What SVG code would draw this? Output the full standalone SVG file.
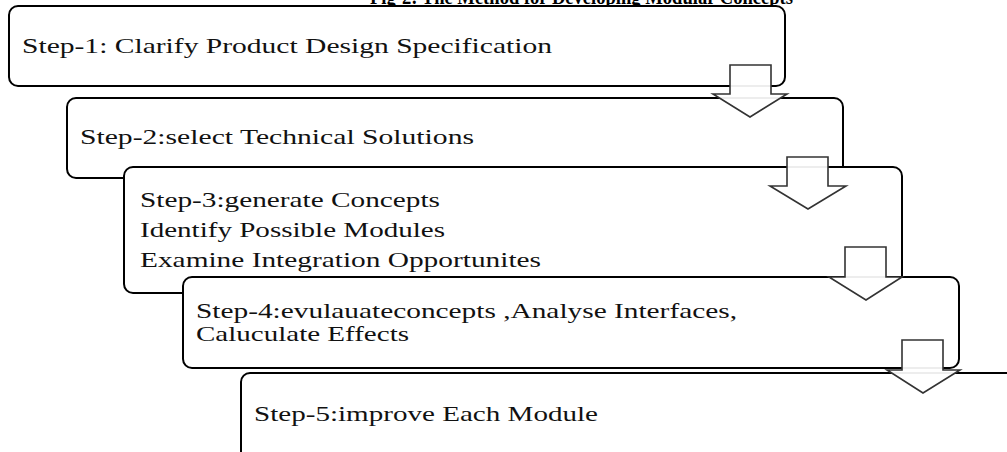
<svg xmlns="http://www.w3.org/2000/svg" width="1007" height="452" viewBox="0 0 1007 452">
  <style>
    .box { fill: #ffffff; stroke: #000000; stroke-width: 2; }
    .lbl { font-family: "Liberation Serif", "Times New Roman", serif; font-size: 22px; fill: #111111; }
    .tight { font-size: 21px; }
    .title { font-family: "Liberation Serif", "Times New Roman", serif; font-size: 22px; font-weight: bold; fill: #000000; }
    .arrow { fill: #ffffff; fill-opacity: 0.93; stroke: #333333; stroke-width: 1.6; stroke-linejoin: miter; }
  </style>

  <!-- caption, clipped at the top edge -->
  <text class="title" x="370" y="4" textLength="423" lengthAdjust="spacingAndGlyphs">Fig-2: The Method for Developing Modular Concepts</text>

  <g id="step1">
    <rect class="box" x="9" y="6" width="776" height="80" rx="9"/>
    <text class="lbl" x="22" y="53" textLength="530" lengthAdjust="spacingAndGlyphs">Step-1: Clarify Product Design Specification</text>
  </g>

  <g id="step2">
    <rect class="box" x="67" y="98" width="776" height="80" rx="9"/>
    <text class="lbl" x="80" y="144" textLength="394" lengthAdjust="spacingAndGlyphs">Step-2:select Technical Solutions</text>
  </g>

  <g id="step3">
    <rect class="box" x="124" y="167" width="778" height="126" rx="9"/>
    <text class="lbl" x="140" y="207" textLength="300" lengthAdjust="spacingAndGlyphs">Step-3:generate Concepts</text>
    <text class="lbl" x="140" y="237" textLength="305" lengthAdjust="spacingAndGlyphs">Identify Possible Modules</text>
    <text class="lbl" x="140" y="267" textLength="401" lengthAdjust="spacingAndGlyphs">Examine Integration Opportunites</text>
  </g>

  <g id="step4">
    <rect class="box" x="183" y="277" width="776" height="91" rx="9"/>
    <text class="lbl tight" x="196" y="318" textLength="541" lengthAdjust="spacingAndGlyphs">Step-4:evulauateconcepts ,Analyse Interfaces,</text>
    <text class="lbl tight" x="196" y="341" textLength="213" lengthAdjust="spacingAndGlyphs">Caluculate Effects</text>
  </g>

  <g id="step5">
    <rect class="box" x="241" y="373" width="800" height="110" rx="9"/>
    <text class="lbl" x="254" y="421" textLength="344" lengthAdjust="spacingAndGlyphs">Step-5:improve Each Module</text>
  </g>

  <!-- block arrows linking consecutive steps -->
  <g id="connectors">
    <path class="arrow" d="M730,65 H771 V94 H787 L750,117 L713,94 H730 Z"/>
    <path class="arrow" d="M787,157 H828 V186 H846 L808,209 L770,186 H787 Z"/>
    <path class="arrow" d="M845,247 H886 V277 H902 L866,300 L829,277 H845 Z"/>
    <path class="arrow" d="M902,340 H943 V370 H960 L923,393 L887,370 H902 Z"/>
  </g>
</svg>
